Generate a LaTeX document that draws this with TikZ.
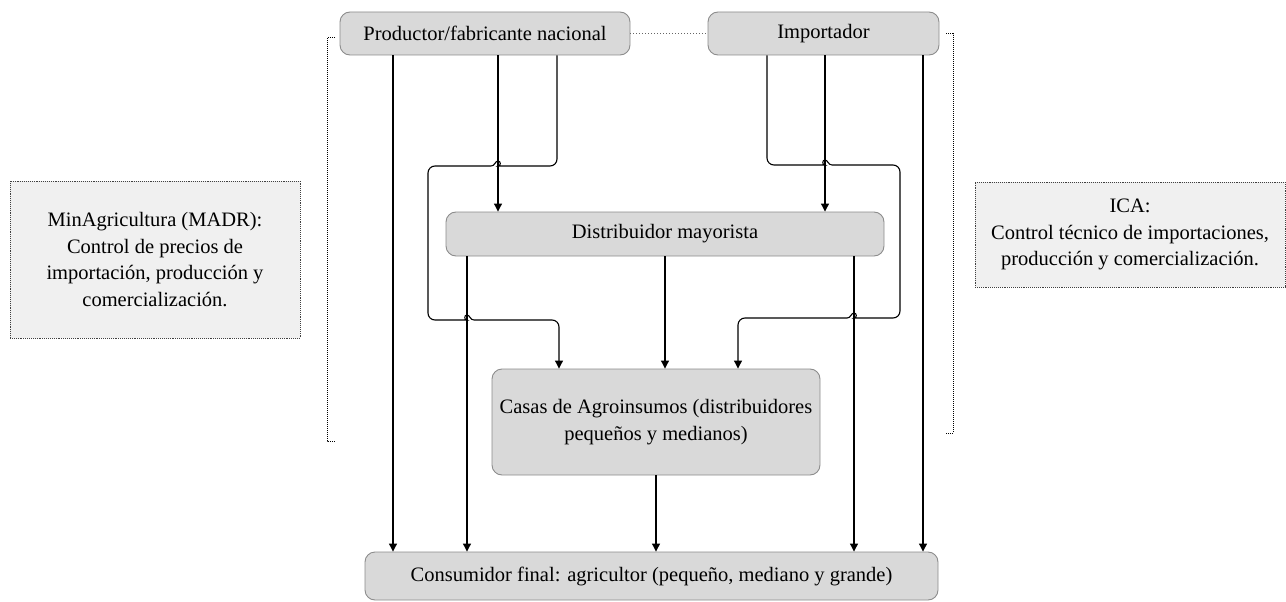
\documentclass[tikz,border=0pt]{standalone}
\usepackage{fontspec}
\setmainfont{Liberation Serif}
\usetikzlibrary{arrows.meta,calc}
\begin{document}
\begin{tikzpicture}[x=1pt,y=-1pt,
  box/.style={draw=black!45,fill=black!15,rounded corners=10pt,line width=0.9pt,
    inner sep=0pt,align=center,font=\fontsize{20.5}{26.5}\selectfont},
  govbox/.style={draw=black!75,fill=black!6,densely dotted,line width=0.9pt,
    inner sep=0pt,align=center,font=\fontsize{20.5}{26.5}\selectfont},
  arr/.style={line width=1.1pt,-{Triangle[length=8pt,width=8pt]}},
  bracket/.style={line width=1pt,densely dotted},
  link/.style={draw=black!60,line width=1pt,dotted}]
\useasboundingbox (0,0) rectangle (1286,602);
\node[box,minimum width=290pt,minimum height=43pt] (prod) at (485,33.5) {Productor/fabricante nacional};
\node[box,minimum width=231pt,minimum height=43pt] (imp) at (823.5,33.5) {Importador};
\node[box,minimum width=438pt,minimum height=44pt] (dist) at (665,234) {Distribuidor mayorista};
\node[box,minimum width=328pt,minimum height=106pt] (casas) at (656,422) {Casas de Agroinsumos (distribuidores\\pequeños y medianos)};
\node[box,minimum width=573pt,minimum height=48pt] (cons) at (651.5,576) {Consumidor final: agricultor (pequeño, mediano y grande)};
\node[govbox,minimum width=290pt,minimum height=157pt] (madr) at (155,259.5) {MinAgricultura (MADR):\\Control de precios de\\importación, producción y\\comercialización.};
\node[govbox,minimum width=310pt,minimum height=105pt] (ica) at (1130,234.5) {ICA:\\Control técnico de importaciones,\\producción y comercialización.};
% link between producers
\draw[link] (prod.east) -- (imp.west);
% brackets
\coordinate (lbt) at (335,38); \coordinate (lbb) at (335,441);
\coordinate (rbt) at (946,34); \coordinate (rbb) at (946,433);
\draw[bracket] (lbt) -- (327,38) -- (327,441) -- (lbb);
\draw[bracket] (rbt) -- (953,34) -- (953,433) -- (rbb);
% direct lines
\draw[arr] (prod.south -| 393,0) -- (cons.north -| 393,0);
\draw[arr] (prod.south -| 498,0) -- (dist.north -| 498,0);
\draw[arr] (imp.south -| 825,0) -- (dist.north -| 825,0);
\draw[arr] (imp.south -| 923,0) -- (cons.north -| 923,0);
\draw[arr] (dist.south -| 467,0) -- (cons.north -| 467,0);
\draw[arr] (dist.south -| 854,0) -- (cons.north -| 854,0);
\draw[arr] (dist.south) -- (casas.north -| dist.south);
\draw[arr] (casas.south) -- (cons.north -| casas.south);
% producer loop
\draw[arr,rounded corners=7pt] (prod.south -| 557,0) -- (557,166) -- (505,166)
  [sharp corners] .. controls (501,166) and (501,161) .. (498,161) .. controls (495,161) and (495,166) .. (491,166)
  [rounded corners=7pt] -- (428,166) -- (428,320) -- (460,320)
  [sharp corners] .. controls (464,320) and (464,315) .. (467,315) .. controls (470,315) and (470,320) .. (474,320)
  [rounded corners=7pt] -- (559,320) -- (casas.north -| 559,0);
% importer loop
\draw[arr,rounded corners=7pt] (imp.south -| 767,0) -- (767,165) -- (818,165)
  [sharp corners] .. controls (822,165) and (822,160) .. (825,160) .. controls (828,160) and (828,165) .. (832,165)
  [rounded corners=7pt] -- (900,165) -- (900,318) -- (861,318)
  [sharp corners] .. controls (857,318) and (857,313) .. (854,313) .. controls (851,313) and (851,318) .. (847,318)
  [rounded corners=7pt] -- (738,318) -- (casas.north -| 738,0);
\end{tikzpicture}
\end{document}
